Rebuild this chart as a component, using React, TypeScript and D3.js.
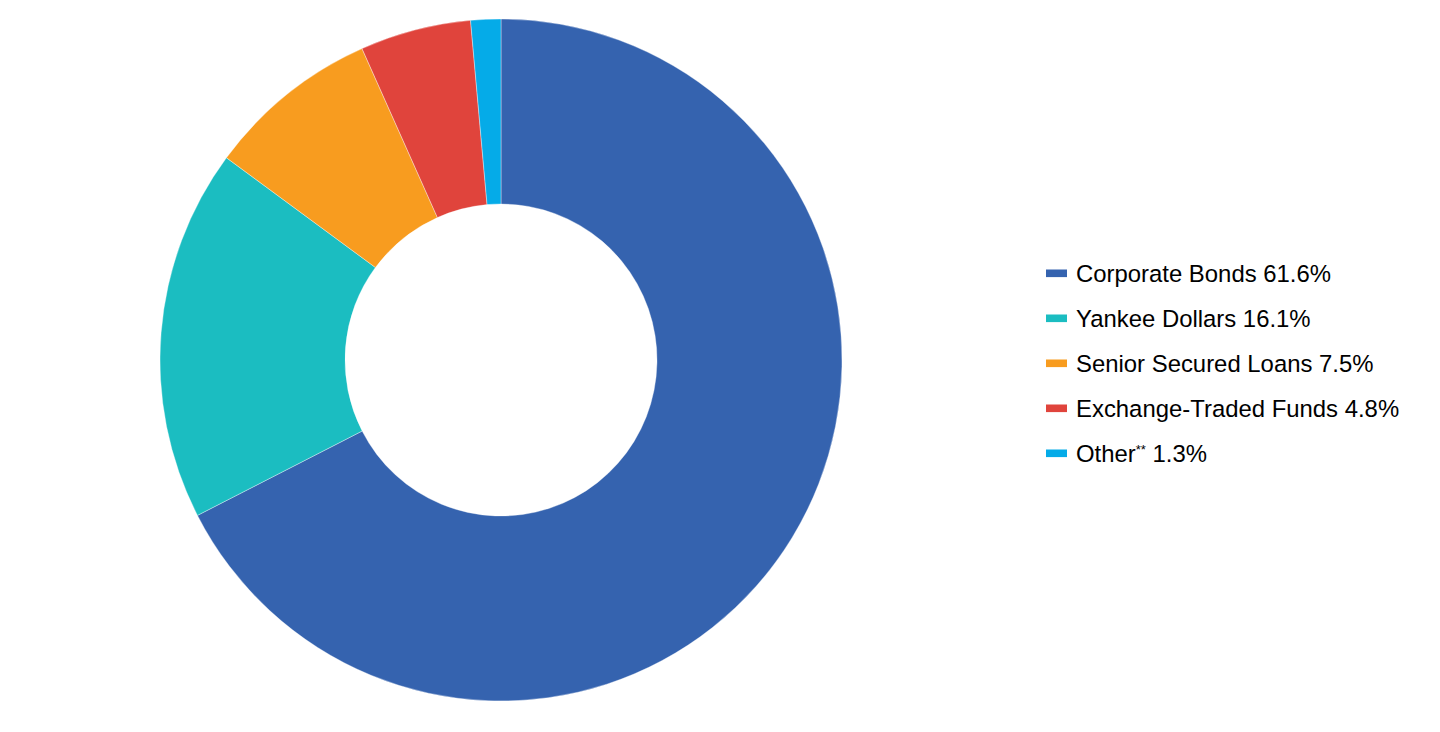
import { useEffect, useRef } from "react";
import * as d3 from "d3";

const width = 1440;
const height = 732;

const categories = [
  "Corporate Bonds",
  "Yankee Dollars",
  "Senior Secured Loans",
  "Exchange-Traded Funds",
  "Other",
];
const values = [61.6, 16.1, 7.5, 4.8, 1.3];
const colors = ["#3563AF", "#1BBDC1", "#F89C1F", "#E0443C", "#05ABE8"];

const CENTER = { x: 501, y: 360 };
const OUTER = 341;
const INNER = 156;

const LEGEND = { x: 1046, y: 273.3, step: 45 };

function App() {
  const svgRef = useRef(null);

  useEffect(() => {
    const svg = d3.select(svgRef.current);
    svg.selectAll("*").remove();

    const data = categories.map((c, i) => ({ name: c, value: values[i], color: colors[i] }));

    const pie = d3.pie<any>().sort(null).value((d) => d.value);
    const arc = d3.arc<any>().innerRadius(INNER).outerRadius(OUTER);

    const g = svg.append("g").attr("transform", `translate(${CENTER.x},${CENTER.y})`);
    g.selectAll("path")
      .data(pie(data))
      .join("path")
      .attr("d", arc)
      .attr("fill", (d) => d.data.color)
      .attr("stroke", "#ffffff")
      .attr("stroke-opacity", 0.6)
      .attr("stroke-width", 0.6);

    // legend
    const legend = svg.append("g").attr("transform", `translate(${LEGEND.x},${LEGEND.y})`);
    const rows = legend
      .selectAll("g")
      .data(data)
      .join("g")
      .attr("transform", (_, i) => `translate(0,${i * LEGEND.step})`);

    rows.append("rect")
      .attr("x", 0)
      .attr("y", -3.8)
      .attr("width", 21)
      .attr("height", 7.6)
      .attr("fill", (d) => d.color);

    const text = rows.append("text")
      .attr("x", 30)
      .attr("y", 8.4)
      .style("font-family", "'Liberation Sans', Arial, sans-serif")
      .style("font-size", "23.9px")
      .attr("fill", "#000");

    text.each(function (d) {
      const t = d3.select(this);
      if (d.name === "Other") {
        t.append("tspan").text(d.name);
        t.append("tspan").attr("dy", -8).style("font-size", "13px").text("**");
        t.append("tspan").attr("dy", 8).text(` ${d.value}%`);
      } else {
        t.text(`${d.name} ${d.value}%`);
      }
    });
  }, []);

  return (
    <div>
      <svg
        width={width}
        height={height}
        ref={svgRef}
        style={{ position: "absolute", left: 0, top: 0 }}
      ></svg>
    </div>
  );
}

export default App;
